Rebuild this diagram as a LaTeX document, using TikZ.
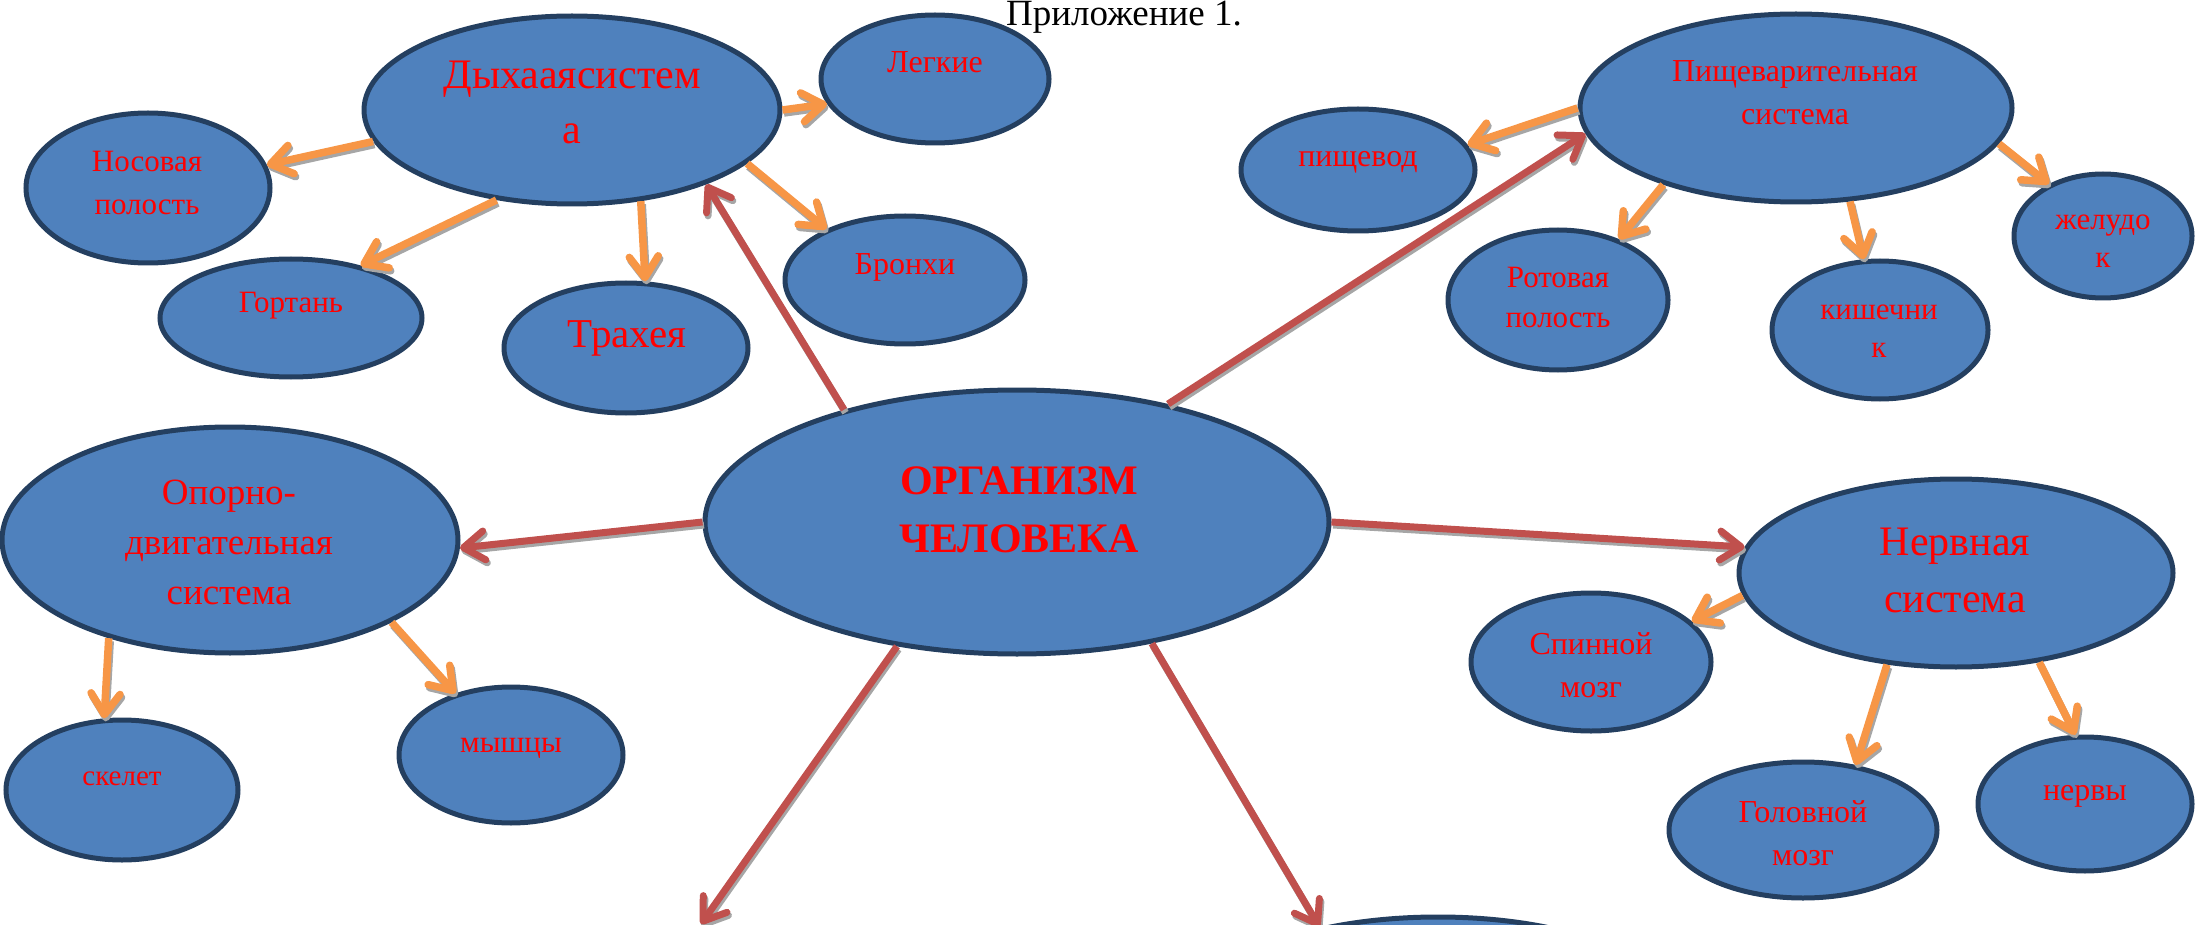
\documentclass[tikz,border=0pt]{standalone}
\usepackage{fontspec}
\setmainfont{Liberation Serif}
\usetikzlibrary{shapes.geometric,arrows.meta}
\definecolor{bfill}{HTML}{4F81BD}
\definecolor{bline}{HTML}{243F60}
\definecolor{rarr}{HTML}{C0504D}
\definecolor{oarr}{HTML}{F79646}
\definecolor{shad}{HTML}{A6A6A6}
\definecolor{txtred}{HTML}{FF0000}
\newcommand\mylines[1]{\begin{tabular}[t]{@{}c@{}}#1\end{tabular}}
\newcommand\fs[2]{\fontsize{#1}{#2}\selectfont}
\tikzset{
  bubble/.style={ellipse, draw=bline, fill=bfill, line width=5pt, inner sep=0pt},
  lbl/.style={anchor=base, text=txtred, inner sep=0pt},
  redarrow/.style={draw=rarr, line width=7pt, -{Straight Barb[round,length=21pt,width=29pt]}},
  orarrow/.style={draw=oarr, line width=7.5pt, -{Straight Barb[round,length=21pt,width=29pt]}},
}
\newcommand\sharrow[3]{%
  \draw[#1, draw=shad, transform canvas={shift={(1.5pt,-3pt)}}] #2 -- #3;
  \draw[#1] #2 -- #3;}
\begin{document}
\begin{tikzpicture}[x=1pt,y=-1pt]
\useasboundingbox (0,0) rectangle (2196,925);
\clip (0,0) rectangle (2196,925);
% ellipses
\node[bubble, minimum width=416pt, minimum height=188pt] (D) at (572,110) {};
\node[bubble, minimum width=228pt, minimum height=128pt] (L) at (935,79) {};
\node[bubble, minimum width=244pt, minimum height=150pt] (N) at (148,188) {};
\node[bubble, minimum width=262pt, minimum height=118pt] (G) at (291,318) {};
\node[bubble, minimum width=244pt, minimum height=130pt] (T) at (626,348) {};
\node[bubble, minimum width=240pt, minimum height=128pt] (B) at (905,280) {};
\node[bubble, minimum width=432pt, minimum height=188pt] (P) at (1796,108) {};
\node[bubble, minimum width=234pt, minimum height=122pt] (Pv) at (1358,170) {};
\node[bubble, minimum width=220pt, minimum height=140pt] (R) at (1558,300) {};
\node[bubble, minimum width=216pt, minimum height=138pt] (K) at (1880,330) {};
\node[bubble, minimum width=178pt, minimum height=124pt] (Zh) at (2103,236) {};
\node[bubble, minimum width=456pt, minimum height=226pt] (O) at (230,540) {};
\node[bubble, minimum width=624pt, minimum height=264pt] (Org) at (1017,522) {};
\node[bubble, minimum width=232pt, minimum height=140pt] (Sk) at (122,790) {};
\node[bubble, minimum width=224pt, minimum height=136pt] (M) at (511,755) {};
\node[bubble, minimum width=434pt, minimum height=188pt] (Nerv) at (1956,573) {};
\node[bubble, minimum width=240pt, minimum height=138pt] (Sp) at (1591,662) {};
\node[bubble, minimum width=268pt, minimum height=136pt] (Gol) at (1803,830) {};
\node[bubble, minimum width=214pt, minimum height=134pt] (Nv) at (2085,804) {};
\node[bubble, minimum width=476pt, minimum height=186pt] (Bot) at (1438,1010) {};
\coordinate (offL) at (701,924);
% red arrows
\sharrow{redarrow}{(Org.147.3)}{(D.331.6)}
\sharrow{redarrow}{(Org.38.1)}{(P.187.2)}
\sharrow{redarrow}{(Org.180)}{(O.358.5)}
\sharrow{redarrow}{(Org.0)}{(Nerv.173)}
\sharrow{redarrow}{(Org.226.4)}{(offL)}
\sharrow{redarrow}{(Org.318.6)}{(Bot.145.2)}
% orange arrows
\sharrow{orarrow}{(D.189.3)}{(N.11.8)}
\sharrow{orarrow}{(D.230.7)}{(G.37)}
\sharrow{orarrow}{(D.307.5)}{(T.74)}
\sharrow{orarrow}{(D.0.8)}{(L.193.3)}
\sharrow{orarrow}{(D.343.8)}{(B.147.5)}
\sharrow{orarrow}{(P.180)}{(Pv.13.9)}
\sharrow{orarrow}{(P.210)}{(R.45.9)}
\sharrow{orarrow}{(P.300.4)}{(K.103)}
\sharrow{orarrow}{(P.350.9)}{(Zh.136.5)}
\sharrow{orarrow}{(O.219)}{(Sk.104.8)}
\sharrow{orarrow}{(O.333.7)}{(M.132.7)}
\sharrow{orarrow}{(Nerv.186.3)}{(Sp.22.8)}
\sharrow{orarrow}{(Nerv.233.6)}{(Gol.51.2)}
\sharrow{orarrow}{(Nerv.313.2)}{(Nv.98.5)}
% texts
\node[anchor=base, inner sep=0pt, font=\fs{37}{40}] (app) at (1124,26) {Приложение 1.};
\node[lbl, font=\fs{42}{55}] (Dt) at (572,89) {\mylines{Дыхааясистем\\а}};
\node[lbl, font=\fs{32}{40}] (Lt) at (935,73) {Легкие};
\node[lbl, font=\fs{31}{43}] (Nt) at (147,172) {\mylines{Носовая\\полость}};
\node[lbl, font=\fs{31}{40}] (Gt) at (291,313) {Гортань};
\node[lbl, font=\fs{41}{50}] (Tt) at (627,348) {Трахея};
\node[lbl, font=\fs{32}{40}] (Bt) at (905,275) {Бронхи};
\node[lbl, font=\fs{32}{43}] (Pt) at (1795,82) {\mylines{Пищеварительная\\система}};
\node[lbl, font=\fs{32}{40}] (Pvt) at (1358,167) {пищевод};
\node[lbl, font=\fs{31}{40}] (Rt) at (1558,288) {\mylines{Ротовая\\полость}};
\node[lbl, font=\fs{31}{38}] (Kt) at (1879,320) {\mylines{кишечни\\к}};
\node[lbl, font=\fs{31}{38}] (Zht) at (2103,230) {\mylines{желудо\\к}};
\node[lbl, font=\fs{37}{50}] (Ot) at (229,504) {\mylines{Опорно-\\двигательная\\система}};
\node[lbl, font=\fs{42}{58}\bfseries] (Orgt) at (1019,494) {\mylines{ОРГАНИЗМ\\ЧЕЛОВЕКА}};
\node[lbl, font=\fs{29}{36}] (Skt) at (122,785) {скелет};
\node[lbl, font=\fs{31}{40}] (Mt) at (511,752) {мышцы};
\node[lbl, font=\fs{42}{57}] (Nervt) at (1955,555) {\mylines{Нервная\\система}};
\node[lbl, font=\fs{32}{43}] (Spt) at (1591,654) {\mylines{Спинной\\мозг}};
\node[lbl, font=\fs{32}{43}] (Golt) at (1803,822) {\mylines{Головной\\мозг}};
\node[lbl, font=\fs{32}{40}] (Nvt) at (2085,800) {нервы};
\end{tikzpicture}
\end{document}
